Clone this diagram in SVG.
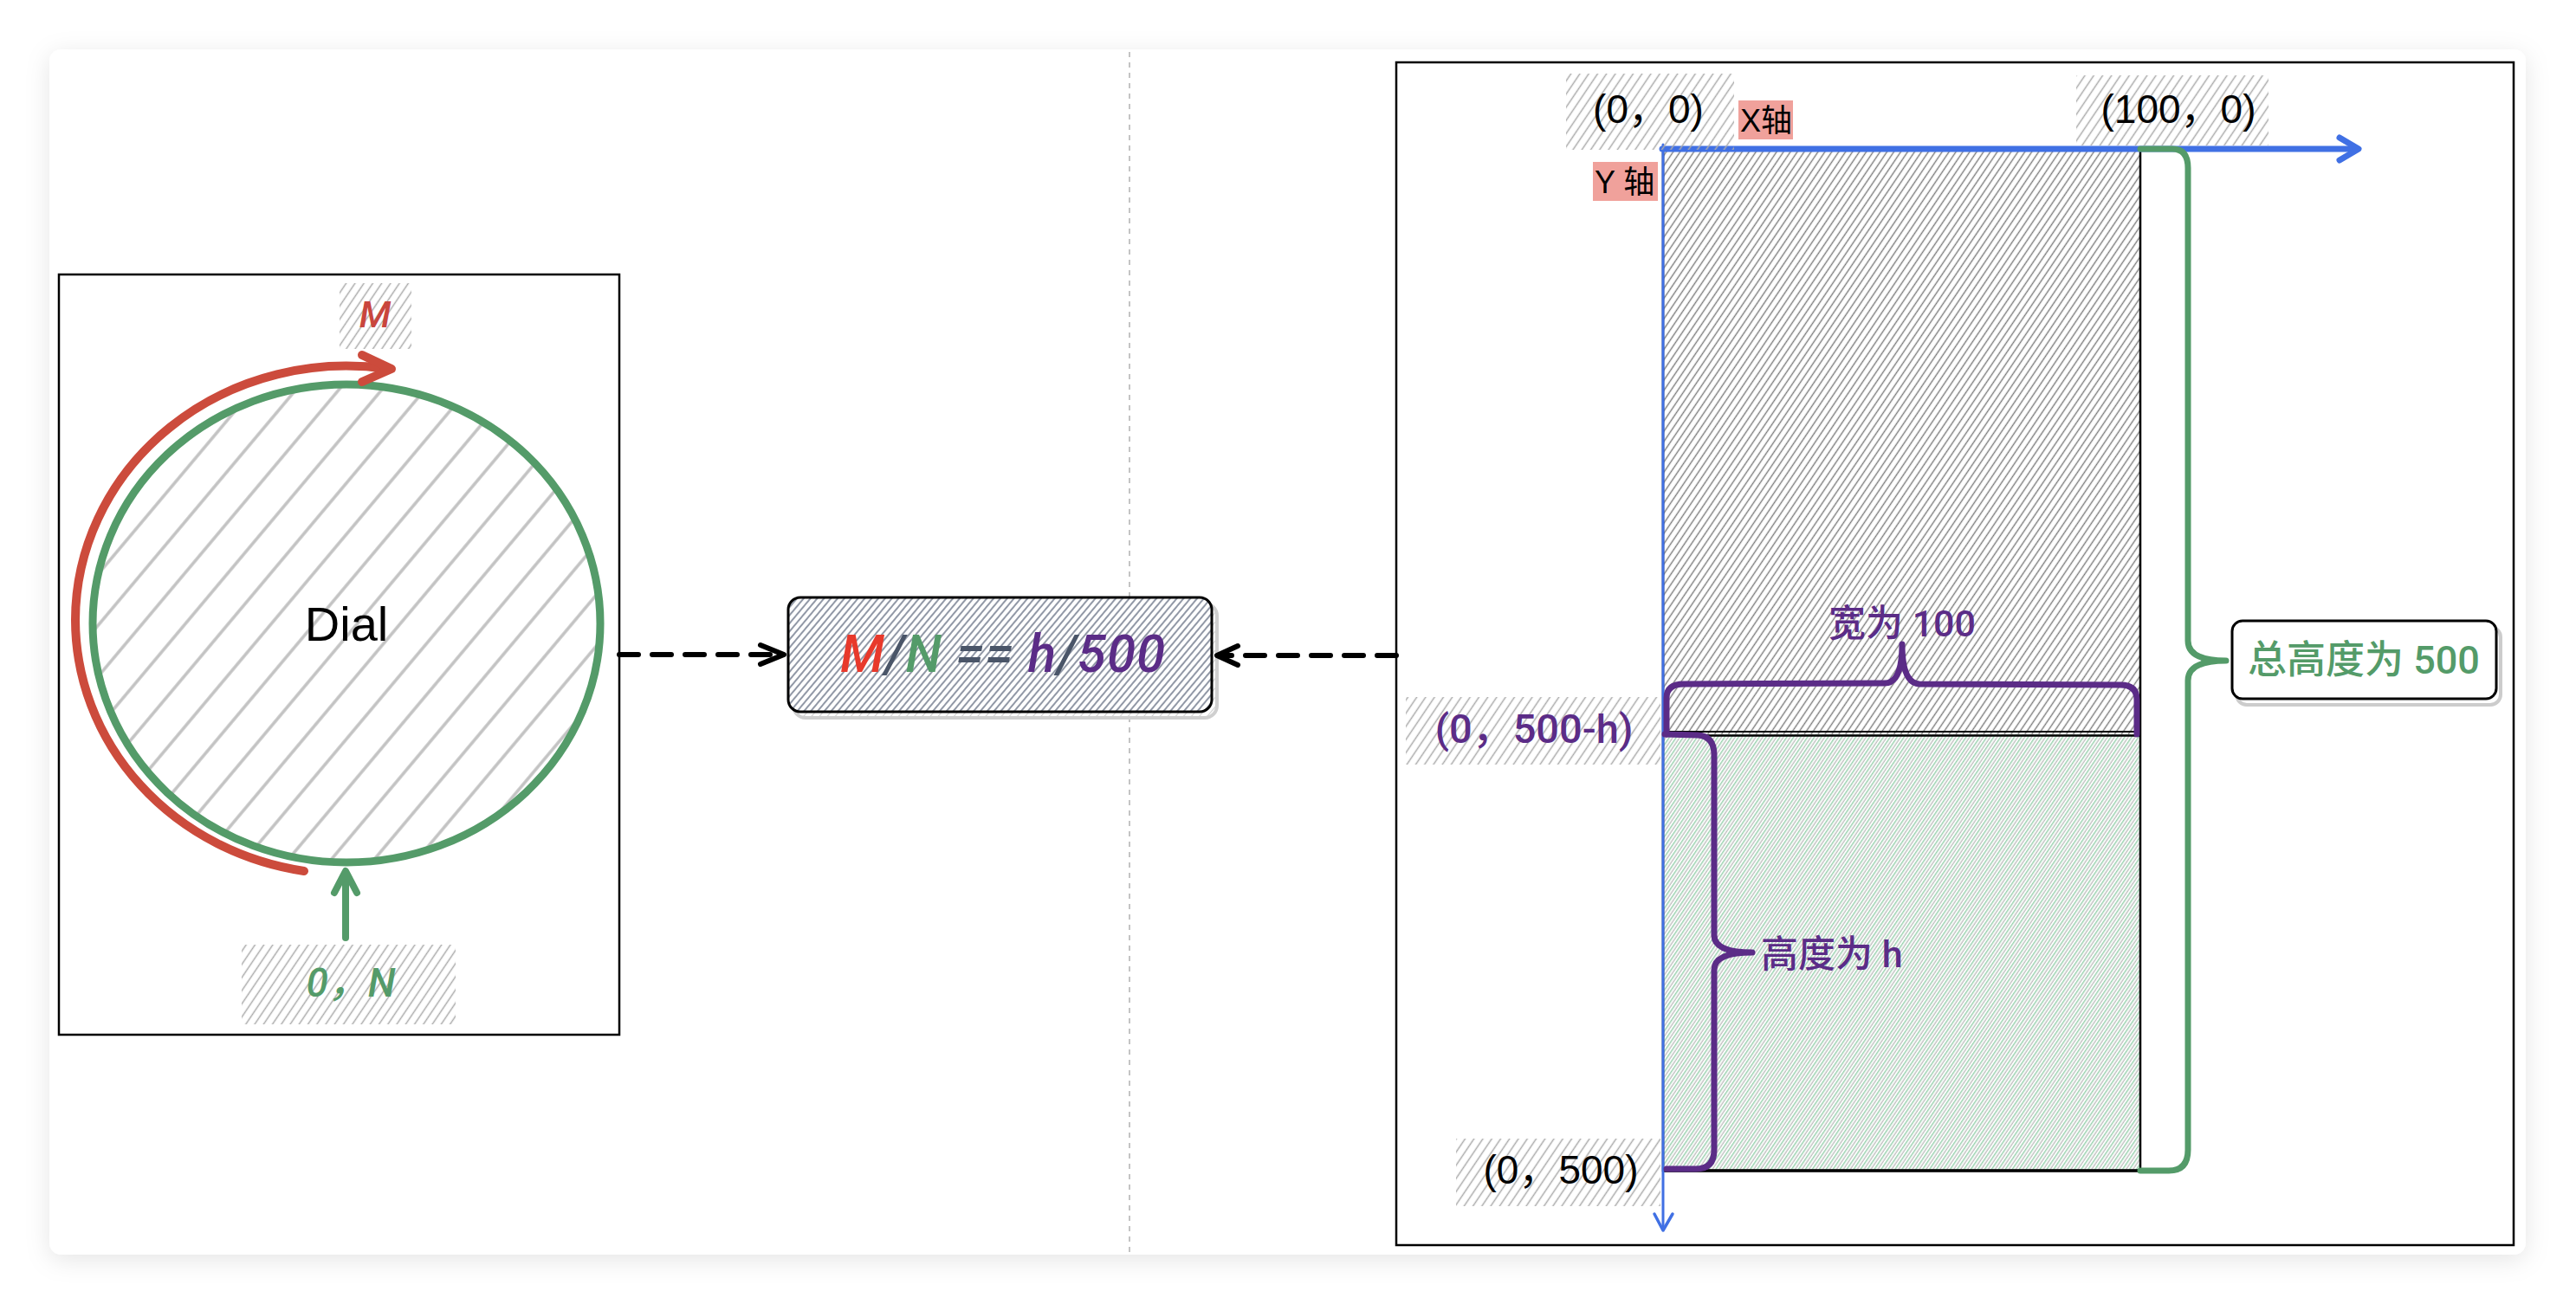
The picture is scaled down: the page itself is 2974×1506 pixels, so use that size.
<svg xmlns="http://www.w3.org/2000/svg" width="2974" height="1506" viewBox="0 0 2974 1506">
<style>
.t{font-family:"Liberation Sans","Noto Sans CJK SC",sans-serif;}
.m{font-family:"Roboto","Noto Sans CJK SC",sans-serif;font-weight:500;}
.it{font-style:italic;}
.mid{text-anchor:middle;}
.box{fill:none;stroke:#000;stroke-width:2.5;}
.dash{fill:none;stroke:#000;stroke-width:6;stroke-dasharray:22 16;stroke-linecap:round;}
.head{fill:none;stroke:#000;stroke-width:6;stroke-linecap:round;stroke-linejoin:round;}
.pur{fill:none;stroke:#5b2c87;stroke-width:7;stroke-linecap:round;stroke-linejoin:round;}
.grn{fill:none;stroke:#549b69;stroke-width:7;stroke-linecap:round;stroke-linejoin:round;}
.blue{fill:none;stroke:#4070e4;stroke-linecap:round;stroke-linejoin:round;}
</style>
<defs>
<filter id="sh" x="-5%" y="-8%" width="110%" height="120%">
<feDropShadow dx="0" dy="6" stdDeviation="14" flood-color="#000" flood-opacity="0.10"/>
</filter>
<pattern id="hDial" patternUnits="userSpaceOnUse" width="40" height="38" patternTransform="rotate(-50)">
<line x1="0" y1="19" x2="40" y2="19" stroke="#c2c2c2" stroke-width="3.5"/>
</pattern>
<pattern id="hLab" patternUnits="userSpaceOnUse" width="10" height="8.5" patternTransform="rotate(-56)">
<line x1="0" y1="4.25" x2="10" y2="4.25" stroke="#ababab" stroke-width="1.5"/>
</pattern>
<pattern id="hUp" patternUnits="userSpaceOnUse" width="10" height="6.6" patternTransform="rotate(-56)">
<line x1="0" y1="3.3" x2="10" y2="3.3" stroke="#7c7c7c" stroke-width="1.4"/>
</pattern>
<pattern id="hLow" patternUnits="userSpaceOnUse" width="10" height="6.6" patternTransform="rotate(-56)">
<line x1="0" y1="1.6" x2="10" y2="1.6" stroke="#9bd1af" stroke-width="1.5"/>
<line x1="0" y1="4.9" x2="10" y2="4.9" stroke="#9a9a9a" stroke-width="0.9"/>
</pattern>
<pattern id="hForm" patternUnits="userSpaceOnUse" width="10" height="6" patternTransform="rotate(-50)">
<line x1="0" y1="3" x2="10" y2="3" stroke="#6c7588" stroke-width="1.5"/>
</pattern>
<pattern id="hGhost" patternUnits="userSpaceOnUse" width="10" height="7" patternTransform="rotate(-50)">
<line x1="0" y1="3.5" x2="10" y2="3.5" stroke="#cfcfcf" stroke-width="1.2"/>
</pattern>
</defs>

<rect width="2974" height="1506" fill="#ffffff"/>
<rect id="card" x="57" y="57" width="2859" height="1392" rx="14" fill="#ffffff" filter="url(#sh)"/>
<line id="divider" x1="1304" y1="60" x2="1304" y2="1446" stroke="#c4c4c4" stroke-width="2" stroke-dasharray="6 6"/>

<g id="dial-node">
<rect class="box" x="68" y="317" width="647" height="878"/>
<ellipse cx="400" cy="720" rx="293" ry="276" fill="url(#hDial)"/>
<ellipse cx="400" cy="720" rx="293" ry="276" fill="none" stroke="#549b69" stroke-width="9"/>
<path d="M351 1006 A313 294 0 0 1 87 716 A313 294 0 0 1 447 426" fill="none" stroke="#cc4b3c" stroke-width="10" stroke-linecap="round"/>
<polyline points="418,410 452,426 418,441" fill="none" stroke="#cc4b3c" stroke-width="10" stroke-linecap="round" stroke-linejoin="round"/>
<line x1="399" y1="1083" x2="399" y2="1008" stroke="#549b69" stroke-width="8" stroke-linecap="round"/>
<polyline points="386,1031 399,1006 412,1031" fill="none" stroke="#549b69" stroke-width="8" stroke-linecap="round" stroke-linejoin="round"/>
<text class="t mid" x="400" y="740" font-size="56" fill="#000">Dial</text>
<g id="label-M">
<rect x="392" y="327" width="83" height="76" fill="url(#hLab)"/>
<text class="m it mid" x="433" y="378" font-size="43" fill="#c9463d">M</text>
</g>
<g id="label-0N">
<rect x="279" y="1091" width="247" height="92" fill="url(#hLab)"/>
<text class="m it mid" x="405" y="1151" font-size="46" fill="#549b69">0，N</text>
</g>
</g>

<g id="formula-node">
<rect x="916" y="697" width="489" height="132" rx="14" fill="url(#hGhost)" stroke="#cfcfcf" stroke-width="4"/>
<rect x="910" y="690" width="489" height="132" rx="14" fill="#ffffff"/>
<rect x="910" y="690" width="489" height="132" rx="14" fill="url(#hForm)" stroke="#000" stroke-width="3"/>
<text class="m it mid" x="1158" y="776" font-size="60" letter-spacing="1"><tspan fill="#e8392b">M</tspan><tspan fill="#4a5568">/</tspan><tspan fill="#549b69">N</tspan><tspan fill="#4a5568"> == </tspan><tspan fill="#5b2c87">h</tspan><tspan fill="#4a5568">/</tspan><tspan fill="#5b2c87">500</tspan></text>
</g>

<g id="coord-node">
<rect class="box" x="1612" y="72" width="1290" height="1366"/>
<rect x="1920" y="172" width="551" height="676" fill="url(#hUp)"/>
<rect x="1920" y="848" width="551" height="504" fill="url(#hLow)"/>
<rect x="1920" y="172" width="551" height="1180" fill="none" stroke="#000" stroke-width="2.5"/>
<line x1="1920" y1="845" x2="2471" y2="845" stroke="#000" stroke-width="2"/>
<line x1="1920" y1="849.5" x2="2471" y2="849.5" stroke="#000" stroke-width="2.5"/>
<line x1="1920" y1="1352" x2="2471" y2="1352" stroke="#000" stroke-width="3.5"/>

<g id="axes">
<line class="blue" x1="1920" y1="167" x2="1920" y2="1420" stroke-width="3"/>
<polyline class="blue" points="1910,1402 1920,1421 1931,1402" stroke-width="3.5"/>
<line class="blue" x1="1919" y1="172" x2="2720" y2="172" stroke-width="7"/>
<polyline class="blue" points="2701,159 2723,172 2701,185" stroke-width="7"/>
</g>

<g id="label-x">
<rect x="2007" y="116" width="63" height="45" fill="#f0a19b"/>
<text class="t" x="2009" y="152" font-size="36" fill="#000">X轴</text>
</g>
<g id="label-y">
<rect x="1839" y="187" width="75" height="45" fill="#f0a19b"/>
<text class="t" x="1841" y="223" font-size="36" fill="#000">Y 轴</text>
</g>
<g id="label-00">
<rect x="1808" y="85" width="194" height="88" fill="url(#hLab)"/>
<text class="t mid" x="1903" y="142" font-size="46" fill="#000">(0，0)</text>
</g>
<g id="label-1000">
<rect x="2397" y="87" width="222" height="81" fill="url(#hLab)"/>
<text class="t mid" x="2515" y="142" font-size="46" fill="#000">(100，0)</text>
</g>
<g id="label-0500h">
<rect x="1623" y="805" width="294" height="78" fill="url(#hLab)"/>
<text class="m mid" x="1771" y="858" font-size="47" fill="#5b2c87">(0，500-h)</text>
</g>
<g id="label-0500">
<rect x="1681" y="1315" width="236" height="78" fill="url(#hLab)"/>
<text class="t mid" x="1802" y="1367" font-size="46" fill="#000">(0，500)</text>
</g>

<g id="brace-width">
<path class="pur" d="M1924 848 L1924 806 Q1924 790 1944 790 L2176 789 Q2196 789 2196 744 Q2196 789 2216 790 L2448 791 Q2467 791 2467 808 L2467 848"/>
<text class="m mid" x="2196" y="735" font-size="43" fill="#5b2c87">宽为 100</text>
</g>
<g id="brace-height">
<path class="pur" d="M1922 848 L1960 849 Q1979 850 1979 872 L1979 1080 Q1979 1100 2023 1100 Q1979 1100 1979 1120 L1979 1328 Q1979 1350 1958 1350 L1924 1350"/>
<text class="m" x="2033" y="1117" font-size="43" fill="#5b2c87">高度为 h</text>
</g>
<g id="brace-total">
<path class="grn" d="M2471 172 L2508 172 Q2526 172 2526 194 L2526 740 Q2526 763 2570 763 Q2526 763 2526 786 L2526 1328 Q2526 1352 2504 1352 L2471 1352"/>
</g>
</g>

<g id="total-node">
<rect x="2582" y="724" width="305" height="90" rx="12" fill="none" stroke="#cccccc" stroke-width="4"/>
<rect x="2577" y="717" width="305" height="90" rx="12" fill="#ffffff" stroke="#000" stroke-width="3"/>
<text class="m mid" x="2729" y="778" font-size="45" fill="#549b69">总高度为 500</text>
</g>

<g id="connectors">
<line class="dash" x1="715" y1="756" x2="898" y2="756"/>
<polyline class="head" points="878,745 905,756 878,767"/>
<line class="dash" x1="1612" y1="757" x2="1412" y2="757"/>
<polyline class="head" points="1429,746 1405,757 1429,768"/>
</g>
</svg>
